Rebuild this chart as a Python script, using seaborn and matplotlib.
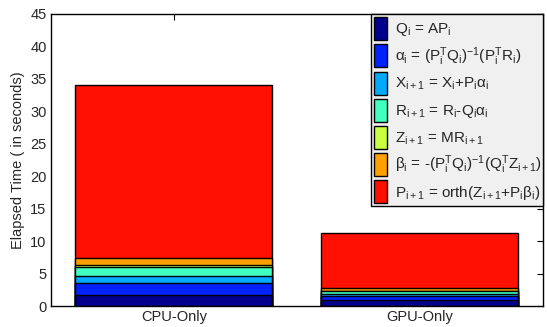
import numpy as np
import pandas as pd
import matplotlib
matplotlib.use("Agg")
import matplotlib.pyplot as plt
import seaborn as sns
from matplotlib.patches import Patch

categories = ["CPU-Only", "GPU-Only"]
steps = ["Q", "alpha", "X", "R", "Z", "beta", "P"]
q_vals = [1.65, 0.95]
alpha_vals = [1.95, 0.62]
x_vals = [0.97, 0.22]
r_vals = [1.50, 0.45]
z_vals = [0.20, 0.12]
beta_vals = [1.08, 0.40]
p_vals = [26.70, 8.44]

I = r"$_\mathrm{i}$"
I1 = r"$_\mathrm{i+1}$"
IT = r"$_\mathrm{i}^\mathrm{T}$"
INV = r"$^\mathrm{-1}$"
labels = [
    f"Q{I} = AP{I}",
    f"α{I} = (P{IT}Q{I}){INV}(P{IT}R{I})",
    f"X{I1} = X{I}+P{I}α{I}",
    f"R{I1} = R{I}-Q{I}α{I}",
    f"Z{I1} = MR{I1}",
    f"β{I} = -(P{IT}Q{I}){INV}(Q{IT}Z{I1})",
    f"P{I1} = orth(Z{I1}+P{I}β{I})",
]
colors = ["#00008C", "#0022FF", "#00AAFF", "#40FFBF", "#C8FF40", "#FFA000", "#FF1000"]

sns.set_style("white")
plt.rcParams["font.family"] = ["Liberation Sans", "DejaVu Sans"]
plt.rcParams["mathtext.fontset"] = "custom"
plt.rcParams["mathtext.rm"] = "Liberation Sans"
plt.rcParams["mathtext.it"] = "Liberation Sans:italic"
plt.rcParams["mathtext.bf"] = "Liberation Sans:bold"

series = [q_vals, alpha_vals, x_vals, r_vals, z_vals, beta_vals, p_vals]
cum = np.cumsum(np.array(series), axis=0)

fig = plt.figure(figsize=(5.47, 3.27), dpi=100)
ax = fig.add_axes([0.0927, 0.0642, 0.900, 0.893])

for i in range(len(steps) - 1, -1, -1):
    df = pd.DataFrame({"cat": categories, "val": cum[i]})
    sns.barplot(data=df, x="cat", y="val", color=colors[i], width=0.8,
                edgecolor="black", linewidth=1.0, saturation=1, ax=ax)

ax.set_xlim(-0.5, 1.5)
ax.set_ylim(0, 45)
ax.set_yticks(np.arange(0, 46, 5))
ax.set_xlabel("")
ax.set_ylabel("Elapsed Time ( in seconds)", fontsize=10.5, labelpad=4)
ax.tick_params(axis="both", direction="in", labelsize=10.5, top=True, right=True,
               length=4, width=0.8, color="black", pad=3)
for s in ax.spines.values():
    s.set_visible(True)
    s.set_color("black")
    s.set_linewidth(1.0)

handles = [Patch(facecolor=c, edgecolor="black", linewidth=1.0) for c in colors]
leg = ax.legend(handles, labels, loc="upper right", bbox_to_anchor=(0.651, 0.0, 0.349, 1.0),
                mode="expand", borderaxespad=0, fontsize=11,
                handlelength=0.85, handleheight=1.95, handletextpad=0.5,
                labelspacing=0.26, borderpad=0.2, frameon=True, fancybox=False,
                framealpha=1)
leg.get_frame().set_facecolor("#F0F0F0")
leg.get_frame().set_edgecolor("black")
leg.get_frame().set_linewidth(1.0)

fig.savefig("out.png", dpi=100)
